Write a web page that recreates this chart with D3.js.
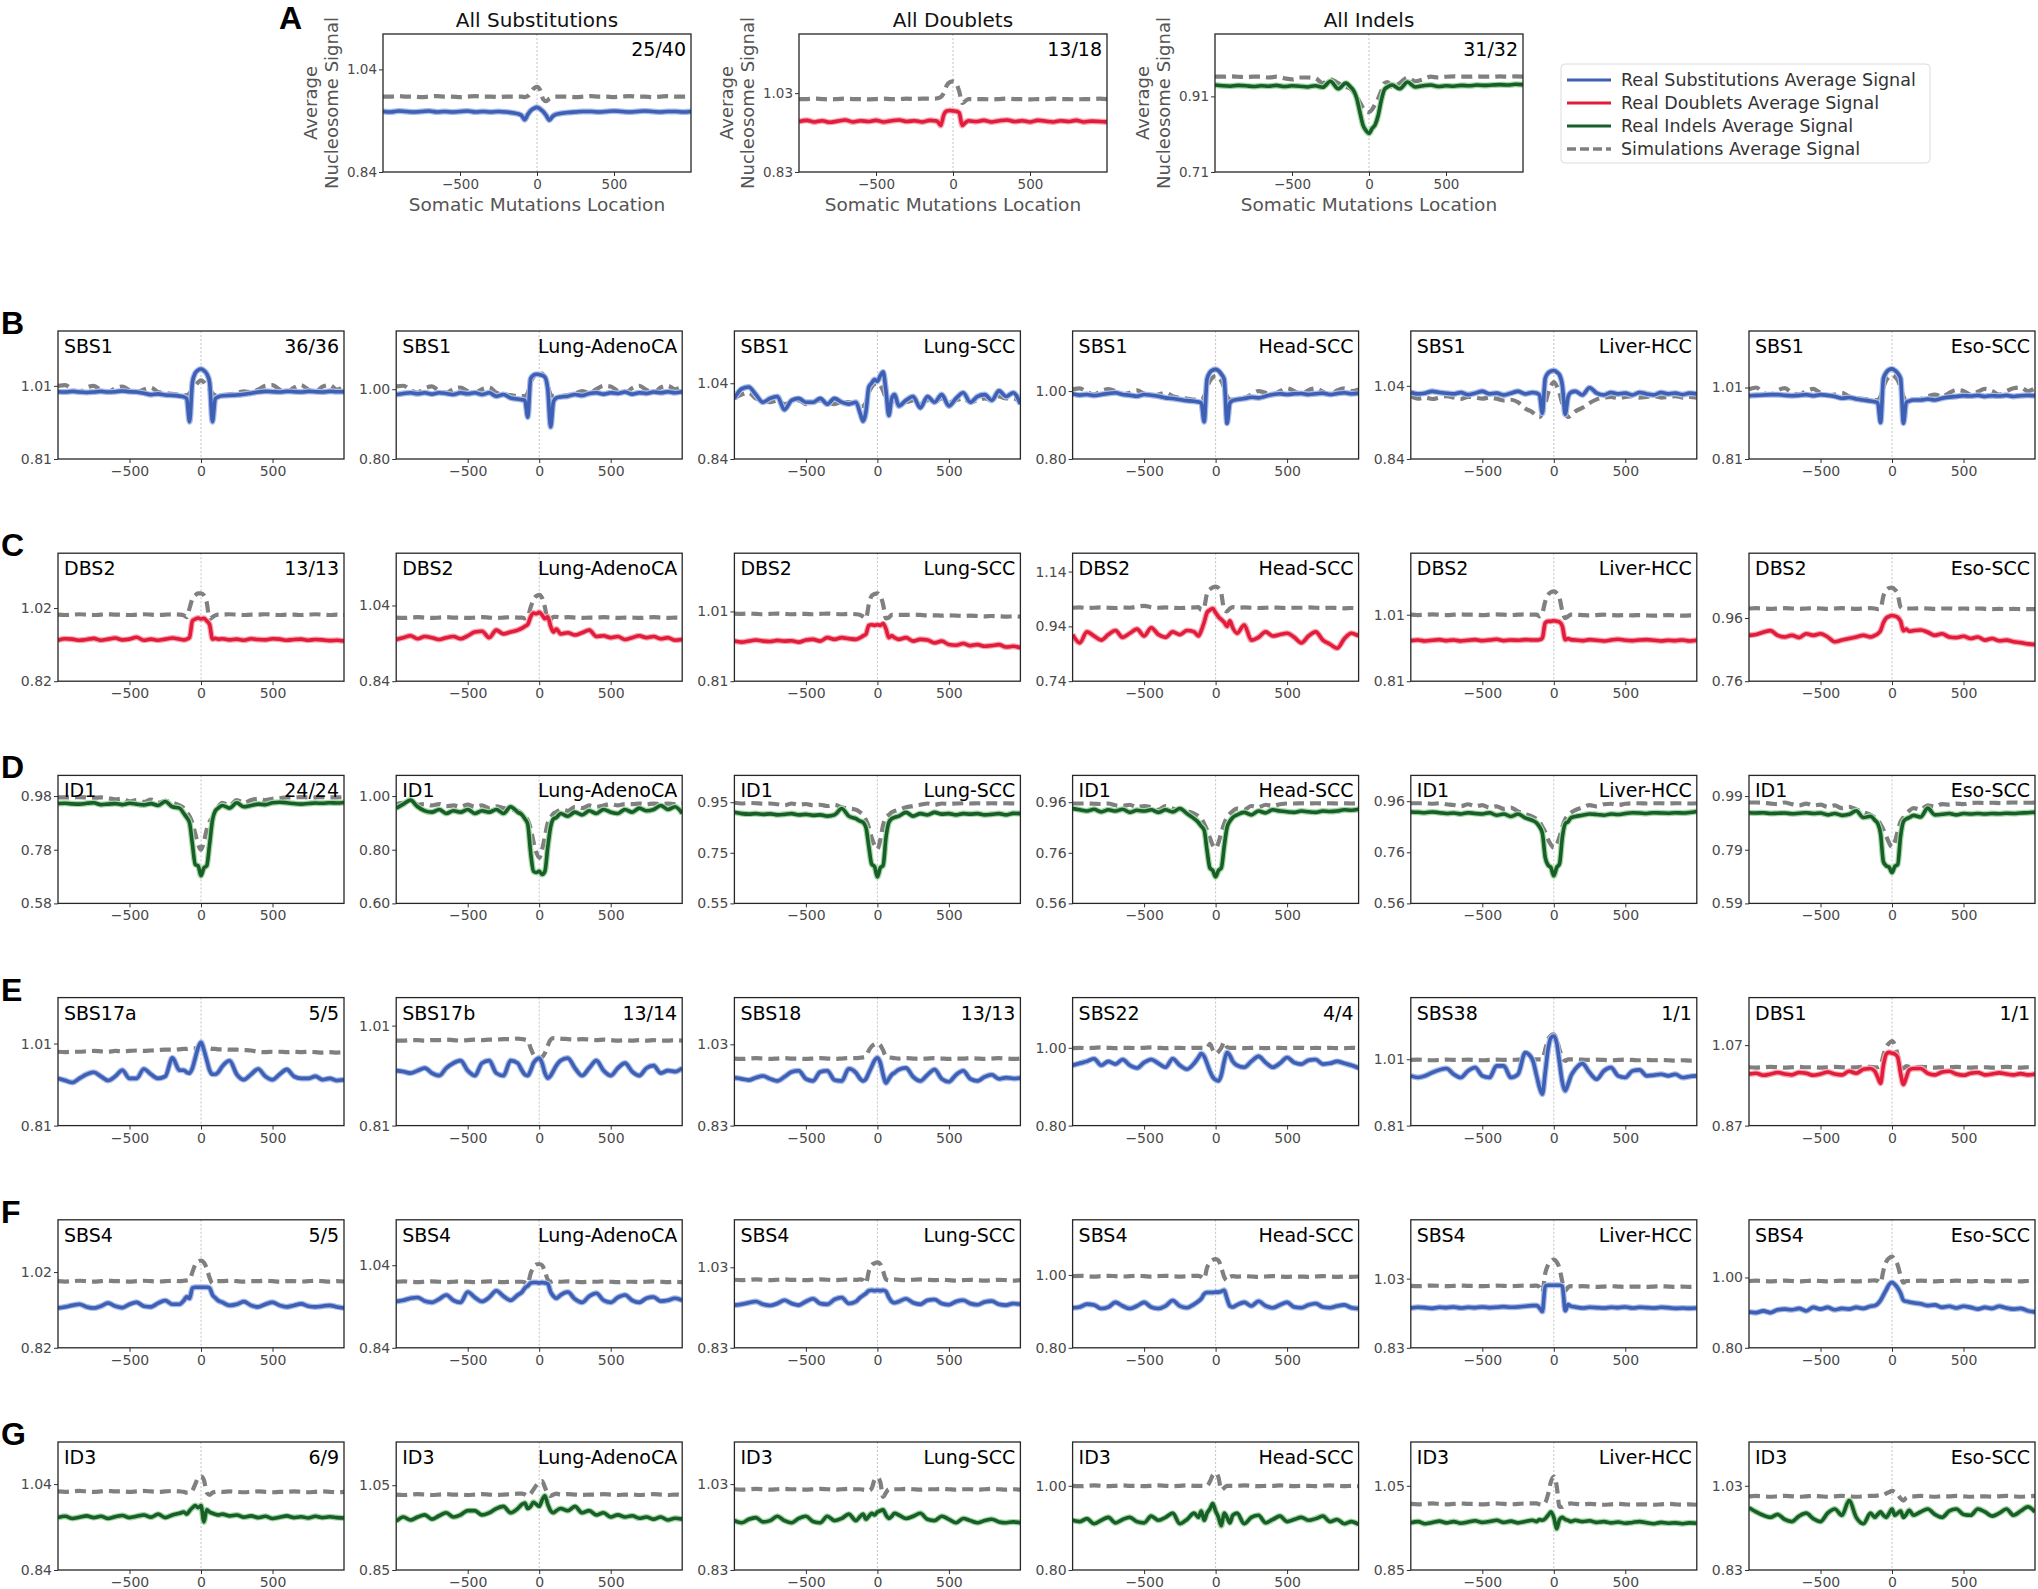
<!DOCTYPE html>
<html><head><meta charset="utf-8">
<script src="https://cdn.jsdelivr.net/npm/d3@7"></script>
<style>body{margin:0;background:#fff}svg{display:block}text{font-family:'DejaVu Sans',sans-serif}</style>
</head><body><script>
// ---------- DATA ----------
const X = [-1000,-950,-900,-850,-800,-750,-700,-650,-600,-550,-500,-450,-400,-350,-300,-250,-200,-150,
 -120,-100,-80,-60,-40,-20,0,20,40,60,80,100,120,
 150,200,250,300,350,400,450,500,550,600,650,700,750,800,850,900,950,1000];
const xTicks = [-500,0,500];

// Panel A
const realA1=[0.958,0.957,0.959,0.958,0.957,0.958,0.959,0.957,0.958,0.957,0.958,0.959,0.957,0.958,0.957,0.958,0.957,0.955,
0.953,0.950,0.942,0.952,0.960,0.964,0.966,0.963,0.958,0.950,0.941,0.948,0.952,
0.954,0.956,0.957,0.958,0.958,0.957,0.958,0.959,0.958,0.957,0.958,0.959,0.958,0.957,0.958,0.958,0.957,0.958];
const simA1=[0.987,0.987,0.988,0.987,0.987,0.986,0.987,0.988,0.987,0.987,0.986,0.987,0.988,0.987,0.987,0.986,0.987,0.987,
0.987,0.987,0.986,0.988,0.995,1.003,1.006,1.0,0.982,0.978,0.983,0.986,0.987,
0.987,0.987,0.986,0.987,0.988,0.987,0.987,0.986,0.987,0.988,0.987,0.987,0.986,0.987,0.988,0.987,0.987,0.987];
const realA2=[0.958,0.961,0.957,0.96,0.956,0.959,0.962,0.957,0.96,0.958,0.961,0.957,0.96,0.962,0.958,0.96,0.957,0.961,
0.96,0.958,0.948,0.975,0.985,0.986,0.985,0.984,0.98,0.948,0.955,0.96,0.959,
0.958,0.961,0.957,0.96,0.962,0.958,0.96,0.957,0.961,0.959,0.957,0.96,0.958,0.961,0.957,0.959,0.958,0.957];
const simA2=[1.015,1.015,1.016,1.015,1.014,1.015,1.016,1.015,1.015,1.014,1.015,1.016,1.015,1.015,1.016,1.015,1.016,1.016,
1.016,1.017,1.02,1.03,1.05,1.058,1.06,1.055,1.035,1.005,1.01,1.015,1.015,
1.015,1.015,1.014,1.015,1.016,1.015,1.015,1.014,1.015,1.015,1.016,1.015,1.015,1.014,1.015,1.015,1.016,1.015];
const realA3=[0.94,0.938,0.937,0.939,0.938,0.936,0.938,0.937,0.939,0.936,0.938,0.937,0.935,0.938,0.934,0.95,0.93,0.945,
0.935,0.925,0.905,0.87,0.835,0.82,0.812,0.825,0.835,0.86,0.9,0.928,0.935,
0.94,0.93,0.948,0.935,0.938,0.94,0.936,0.938,0.937,0.939,0.938,0.94,0.939,0.94,0.941,0.94,0.942,0.941];
const simA3=[0.962,0.962,0.963,0.962,0.961,0.962,0.962,0.96,0.962,0.958,0.955,0.96,0.96,0.958,0.945,0.955,0.945,0.935,
0.93,0.92,0.91,0.895,0.88,0.87,0.868,0.875,0.89,0.905,0.925,0.945,0.948,
0.935,0.945,0.96,0.95,0.955,0.962,0.96,0.962,0.963,0.962,0.962,0.963,0.962,0.962,0.963,0.962,0.963,0.962];

// Row B (SBS1)
const realB1=[0.994,0.993,0.995,0.993,0.992,0.993,0.995,0.993,0.994,0.996,0.994,0.993,0.99,0.986,0.988,0.985,0.984,0.982,
0.98,0.975,0.912,1.02,1.045,1.053,1.056,1.052,1.043,1.02,0.912,0.975,0.98,
0.983,0.984,0.985,0.987,0.99,0.993,0.995,0.994,0.993,0.995,0.994,0.993,0.995,0.994,0.993,0.995,0.994,0.994];
const simB1=[1.01,1.012,1.0,0.993,1.005,1.01,0.998,0.993,1.003,1.008,0.998,0.993,1.0,1.005,0.993,0.99,0.988,0.985,
0.985,0.985,0.99,1.0,1.01,1.02,1.025,1.02,1.01,1.0,0.99,0.985,0.985,
0.985,0.987,0.99,0.995,0.992,1.0,1.01,1.012,1.0,0.993,1.005,1.012,1.0,0.993,1.008,1.012,1.0,1.01];
const realB2=[0.985,0.988,0.99,0.987,0.99,0.986,0.99,0.988,0.985,0.99,0.987,0.99,0.985,0.99,0.98,0.985,0.975,0.972,
0.97,0.968,0.92,1.03,1.04,1.043,1.042,1.04,1.035,1.0,0.892,0.965,0.975,
0.978,0.98,0.985,0.982,0.988,0.99,0.986,0.99,0.988,0.992,0.986,0.99,0.988,0.992,0.99,0.993,0.99,0.993];
const simB2=[1.008,1.01,0.998,0.99,1.003,1.008,0.995,0.99,1.0,1.005,0.995,0.99,1.0,1.005,0.99,0.985,0.983,0.98,
0.98,0.98,0.99,1.02,1.035,1.045,1.048,1.045,1.035,1.01,0.985,0.98,0.98,
0.98,0.983,0.988,0.995,0.99,1.0,1.01,1.008,0.995,0.99,1.003,1.01,0.998,0.99,1.005,1.01,1.0,1.008];
const realB3=[1.0,1.025,1.03,1.01,0.99,1.0,1.005,0.97,0.995,1.0,0.99,0.99,1.0,0.985,1.0,0.99,0.985,0.99,
0.96,0.94,0.965,1.03,1.04,1.05,1.045,1.06,1.07,1.02,0.955,1.0,1.01,
0.98,0.995,1.005,0.975,1.005,0.99,1.01,0.98,1.0,1.015,0.99,1.005,1.01,0.995,1.02,1.005,1.015,0.985];
const simB3=[1.0,1.01,1.015,1.0,0.995,0.99,0.995,0.985,0.99,0.995,0.985,0.99,0.995,0.99,0.985,0.99,0.99,0.985,
0.98,0.98,0.99,1.015,1.03,1.038,1.04,1.035,1.02,1.0,0.99,0.99,0.995,
0.99,0.99,0.995,0.985,0.995,0.99,1.0,0.99,0.995,1.0,0.99,0.995,1.0,0.995,1.005,1.0,1.0,0.99];
const realB4=[0.992,0.988,0.99,0.987,0.99,0.993,0.995,0.99,0.988,0.985,0.99,0.988,0.985,0.98,0.978,0.975,0.972,0.97,
0.968,0.965,0.91,1.035,1.055,1.062,1.064,1.06,1.05,1.035,0.905,0.965,0.972,
0.975,0.978,0.982,0.98,0.985,0.99,0.992,0.99,0.992,0.993,0.99,0.992,0.994,0.99,0.993,0.995,0.992,0.994];
const simB4=[1.005,1.008,0.998,0.99,1.0,1.006,1.0,0.99,0.995,1.002,0.992,0.985,0.99,0.995,0.985,0.98,0.978,0.975,
0.975,0.975,0.985,1.01,1.03,1.04,1.045,1.04,1.03,1.01,0.985,0.975,0.975,
0.978,0.98,0.99,1.0,0.995,0.99,1.0,1.008,1.0,0.99,1.003,1.008,0.998,0.99,1.002,1.008,1.0,1.005];
const realB5=[1.022,1.018,1.02,1.025,1.022,1.02,1.018,1.022,1.016,1.02,1.025,1.018,1.02,1.015,1.02,1.025,1.018,1.022,
1.02,1.015,0.965,1.06,1.075,1.08,1.082,1.078,1.07,1.04,0.962,1.01,1.022,
1.025,1.015,1.035,1.02,1.015,1.022,1.018,1.02,1.015,1.022,1.018,1.015,1.022,1.018,1.02,1.016,1.02,1.018];
const simB5=[1.012,1.005,1.008,1.004,1.008,1.012,1.008,1.004,1.01,1.008,1.005,1.008,1.005,1.0,1.002,0.995,0.978,0.968,
0.958,0.955,0.965,0.99,1.02,1.04,1.05,1.04,1.02,0.99,0.965,0.955,0.96,
0.97,0.98,0.993,1.003,1.008,1.01,1.006,1.01,1.012,1.008,1.01,1.012,1.008,1.01,1.012,1.008,1.01,1.008];
const realB6=[0.987,0.988,0.989,0.99,0.99,0.988,0.987,0.988,0.99,0.987,0.99,0.988,0.985,0.98,0.982,0.978,0.975,0.972,
0.97,0.968,0.912,1.035,1.052,1.06,1.062,1.058,1.05,1.035,0.91,0.968,0.972,
0.975,0.975,0.978,0.975,0.98,0.983,0.985,0.987,0.986,0.988,0.985,0.987,0.986,0.988,0.985,0.987,0.988,0.987];
const simB6=[1.005,1.01,0.995,0.99,1.002,1.008,0.995,0.99,1.0,1.006,0.995,0.988,0.99,0.995,0.985,0.98,0.978,0.975,
0.975,0.975,0.985,1.01,1.03,1.04,1.045,1.04,1.03,1.01,0.985,0.975,0.975,
0.975,0.978,0.985,0.99,0.985,0.995,1.003,1.0,0.99,0.998,1.006,1.0,0.99,1.0,1.008,1.01,1.0,1.008];

// Row C (DBS2)
const realC1=[0.932,0.936,0.935,0.932,0.934,0.937,0.932,0.935,0.938,0.933,0.935,0.94,0.932,0.935,0.932,0.935,0.938,0.935,
0.933,0.935,0.94,0.985,0.99,0.993,0.99,0.992,0.985,0.975,0.935,0.937,0.935,
0.936,0.933,0.935,0.932,0.936,0.934,0.933,0.936,0.935,0.932,0.934,0.935,0.932,0.934,0.933,0.931,0.932,0.93];
const simC1=[1.002,1.001,1.002,1.003,1.002,1.001,1.002,1.003,1.002,1.002,1.001,1.002,1.003,1.002,1.001,1.002,1.003,1.002,
1.0,0.995,1.02,1.045,1.055,1.06,1.06,1.055,1.035,0.99,0.995,1.0,1.002,
1.002,1.003,1.002,1.001,1.002,1.002,1.003,1.002,1.001,1.002,1.002,1.001,1.002,1.003,1.002,1.001,1.002,1.001];
const realC2=[0.95,0.955,0.96,0.952,0.958,0.955,0.95,0.955,0.958,0.952,0.96,0.97,0.972,0.955,0.975,0.965,0.97,0.975,
0.98,0.985,0.99,1.01,1.02,1.018,1.022,1.015,1.005,1.01,0.985,0.97,0.978,
0.965,0.968,0.962,0.968,0.975,0.958,0.96,0.955,0.958,0.95,0.955,0.96,0.955,0.958,0.952,0.955,0.948,0.95];
const simC2=[1.008,1.007,1.008,1.009,1.008,1.007,1.008,1.009,1.008,1.008,1.007,1.008,1.009,1.008,1.007,1.008,1.009,1.008,
1.008,1.006,1.01,1.035,1.055,1.065,1.068,1.06,1.035,1.0,1.003,1.01,1.01,
1.008,1.009,1.008,1.007,1.008,1.008,1.009,1.008,1.007,1.008,1.008,1.007,1.008,1.009,1.008,1.007,1.008,1.007];
const realC3=[0.925,0.922,0.925,0.928,0.925,0.924,0.927,0.925,0.926,0.922,0.928,0.93,0.925,0.935,0.93,0.935,0.932,0.93,
0.935,0.94,0.945,0.97,0.972,0.97,0.972,0.97,0.975,0.96,0.935,0.94,0.935,
0.93,0.935,0.925,0.93,0.928,0.92,0.925,0.915,0.913,0.918,0.912,0.915,0.91,0.912,0.915,0.908,0.91,0.906];
const simC3=[1.004,1.003,1.004,1.003,1.002,1.003,1.004,1.003,1.002,1.003,1.003,1.002,1.003,1.004,1.003,1.002,1.003,1.002,
1.0,0.995,0.99,1.03,1.055,1.06,1.062,1.055,1.03,0.99,0.992,1.0,1.0,
1.0,1.0,1.001,1.0,0.999,0.999,0.998,0.999,0.998,0.997,0.998,0.997,0.996,0.997,0.996,0.995,0.996,0.995];
const realC4=[0.91,0.88,0.92,0.905,0.89,0.91,0.925,0.9,0.915,0.93,0.905,0.935,0.91,0.9,0.92,0.91,0.925,0.92,
0.905,0.925,0.955,0.99,1.0,1.005,0.99,0.975,0.965,0.955,0.94,0.96,0.935,
0.915,0.945,0.89,0.9,0.92,0.905,0.91,0.915,0.9,0.88,0.905,0.92,0.89,0.875,0.86,0.895,0.915,0.905];
const simC4=[1.008,1.009,1.007,1.008,1.009,1.008,1.007,1.009,1.008,1.012,1.015,1.01,1.008,1.009,1.008,1.007,1.008,1.009,
1.01,1.0,1.01,1.06,1.075,1.082,1.085,1.08,1.06,1.0,0.995,1.005,1.01,
1.008,1.009,1.008,1.007,1.008,1.009,1.008,1.007,1.008,1.008,1.009,1.008,1.007,1.008,1.007,1.006,1.007,1.006];
const realC5=[0.932,0.934,0.931,0.933,0.935,0.932,0.934,0.931,0.933,0.935,0.932,0.934,0.936,0.932,0.934,0.933,0.935,0.934,
0.934,0.935,0.94,0.985,0.99,0.99,0.992,0.99,0.988,0.975,0.935,0.938,0.935,
0.934,0.932,0.935,0.933,0.931,0.934,0.936,0.933,0.932,0.934,0.935,0.933,0.931,0.933,0.932,0.934,0.931,0.933];
const simC5=[1.01,1.009,1.01,1.011,1.01,1.009,1.01,1.011,1.01,1.01,1.009,1.01,1.011,1.01,1.009,1.01,1.011,1.01,
1.01,1.005,1.015,1.05,1.07,1.078,1.08,1.075,1.06,1.02,1.0,1.005,1.01,
1.01,1.009,1.008,1.009,1.01,1.009,1.008,1.009,1.008,1.009,1.008,1.007,1.008,1.009,1.008,1.007,1.008,1.007];
const realC6=[0.905,0.908,0.915,0.92,0.905,0.9,0.905,0.898,0.91,0.905,0.91,0.9,0.885,0.89,0.895,0.9,0.905,0.9,
0.905,0.91,0.92,0.945,0.96,0.965,0.968,0.966,0.962,0.95,0.92,0.925,0.918,
0.92,0.922,0.915,0.905,0.91,0.9,0.898,0.902,0.895,0.9,0.89,0.895,0.888,0.89,0.885,0.882,0.878,0.876];
const simC6=[0.99,0.991,0.99,0.989,0.99,0.991,0.99,0.989,0.99,0.991,0.99,0.989,0.99,0.991,0.99,0.989,0.99,0.991,
0.99,0.988,0.99,1.03,1.048,1.055,1.056,1.05,1.035,0.995,0.99,0.99,0.99,
0.99,0.991,0.99,0.989,0.99,0.99,0.989,0.99,0.989,0.99,0.989,0.988,0.989,0.988,0.989,0.988,0.988,0.988];

// Row D (ID1)
const realD1=[0.952,0.953,0.951,0.95,0.953,0.955,0.948,0.95,0.952,0.948,0.953,0.95,0.947,0.952,0.945,0.96,0.94,0.935,
0.915,0.9,0.88,0.8,0.725,0.72,0.683,0.712,0.72,0.8,0.89,0.925,0.935,
0.945,0.935,0.955,0.94,0.945,0.95,0.948,0.955,0.957,0.955,0.952,0.95,0.952,0.954,0.953,0.955,0.954,0.956];
const simD1=[0.975,0.975,0.975,0.976,0.975,0.974,0.975,0.972,0.968,0.97,0.96,0.965,0.958,0.967,0.955,0.962,0.955,0.945,
0.935,0.92,0.905,0.88,0.84,0.8,0.78,0.81,0.855,0.885,0.9,0.92,0.94,
0.955,0.945,0.965,0.955,0.965,0.97,0.965,0.97,0.972,0.975,0.975,0.976,0.975,0.975,0.976,0.975,0.975,0.976];
const realD2=[0.955,0.97,0.985,0.96,0.945,0.94,0.95,0.935,0.945,0.94,0.95,0.935,0.945,0.94,0.95,0.935,0.96,0.94,
0.93,0.915,0.895,0.79,0.72,0.715,0.72,0.708,0.72,0.81,0.885,0.915,0.92,
0.935,0.925,0.94,0.93,0.945,0.935,0.95,0.94,0.935,0.95,0.94,0.955,0.945,0.95,0.965,0.95,0.96,0.935];
const simD2=[0.97,0.975,0.972,0.968,0.97,0.965,0.97,0.962,0.965,0.96,0.968,0.96,0.965,0.955,0.962,0.955,0.95,0.945,
0.935,0.925,0.91,0.88,0.83,0.79,0.77,0.8,0.85,0.9,0.92,0.935,0.94,
0.95,0.945,0.96,0.955,0.965,0.96,0.965,0.97,0.965,0.97,0.97,0.972,0.97,0.972,0.97,0.972,0.97,0.972];
const realD3=[0.91,0.905,0.903,0.905,0.902,0.904,0.9,0.902,0.905,0.9,0.902,0.898,0.9,0.895,0.9,0.925,0.895,0.885,
0.875,0.87,0.85,0.775,0.705,0.695,0.655,0.69,0.7,0.81,0.87,0.885,0.89,
0.895,0.91,0.895,0.905,0.9,0.91,0.903,0.905,0.9,0.905,0.903,0.905,0.9,0.902,0.905,0.9,0.906,0.905];
const simD3=[0.948,0.945,0.947,0.946,0.944,0.945,0.942,0.938,0.945,0.94,0.943,0.938,0.94,0.935,0.94,0.93,0.925,0.92,
0.91,0.9,0.88,0.85,0.81,0.78,0.765,0.8,0.86,0.89,0.9,0.91,0.915,
0.92,0.93,0.935,0.94,0.945,0.94,0.945,0.943,0.945,0.946,0.945,0.946,0.945,0.946,0.945,0.946,0.945,0.946];
const realD4=[0.935,0.93,0.925,0.932,0.922,0.93,0.925,0.932,0.92,0.928,0.925,0.93,0.92,0.93,0.922,0.935,0.915,0.895,
0.88,0.865,0.85,0.77,0.7,0.69,0.665,0.69,0.7,0.785,0.86,0.885,0.9,
0.91,0.92,0.91,0.925,0.918,0.93,0.925,0.922,0.92,0.925,0.922,0.92,0.925,0.923,0.925,0.93,0.928,0.932];
const simD4=[0.955,0.955,0.955,0.954,0.953,0.955,0.948,0.945,0.95,0.94,0.945,0.94,0.93,0.945,0.935,0.93,0.925,0.915,
0.905,0.895,0.875,0.85,0.82,0.79,0.778,0.8,0.84,0.875,0.9,0.915,0.925,
0.935,0.93,0.945,0.94,0.95,0.945,0.952,0.955,0.955,0.956,0.955,0.956,0.955,0.956,0.955,0.956,0.955,0.956];
const realD5=[0.918,0.917,0.915,0.918,0.915,0.912,0.914,0.91,0.915,0.912,0.91,0.915,0.905,0.91,0.9,0.91,0.895,0.885,
0.875,0.86,0.835,0.74,0.71,0.7,0.668,0.7,0.715,0.82,0.872,0.88,0.895,
0.9,0.905,0.91,0.908,0.905,0.91,0.908,0.912,0.915,0.914,0.912,0.915,0.914,0.913,0.915,0.914,0.916,0.92];
const simD5=[0.952,0.952,0.952,0.95,0.952,0.948,0.945,0.94,0.948,0.94,0.945,0.935,0.94,0.93,0.935,0.92,0.91,0.9,
0.89,0.88,0.86,0.84,0.81,0.79,0.778,0.79,0.82,0.86,0.89,0.905,0.915,
0.925,0.935,0.945,0.94,0.948,0.95,0.945,0.95,0.952,0.952,0.951,0.952,0.952,0.951,0.952,0.952,0.951,0.952];
const realD6=[0.928,0.927,0.928,0.925,0.926,0.927,0.924,0.926,0.928,0.925,0.927,0.92,0.925,0.918,0.922,0.935,0.91,0.915,
0.9,0.888,0.85,0.745,0.73,0.725,0.705,0.728,0.735,0.84,0.895,0.905,0.91,
0.918,0.912,0.945,0.92,0.922,0.925,0.92,0.925,0.923,0.925,0.923,0.925,0.924,0.926,0.925,0.927,0.928,0.93];
const simD6=[0.966,0.966,0.965,0.962,0.96,0.966,0.96,0.955,0.962,0.955,0.958,0.95,0.955,0.945,0.95,0.94,0.93,0.92,
0.91,0.9,0.885,0.865,0.84,0.815,0.8,0.82,0.86,0.895,0.91,0.925,0.935,
0.945,0.94,0.955,0.95,0.96,0.958,0.962,0.96,0.964,0.965,0.964,0.965,0.964,0.965,0.966,0.965,0.965,0.966];

// Row E
const realE1=[0.925,0.92,0.915,0.925,0.935,0.94,0.93,0.92,0.93,0.945,0.925,0.925,0.948,0.935,0.925,0.93,0.975,0.945,
0.945,0.94,0.938,0.95,0.975,1.0,1.013,0.995,0.97,0.945,0.935,0.935,0.94,
0.955,0.968,0.935,0.922,0.935,0.948,0.93,0.922,0.935,0.947,0.93,0.925,0.925,0.93,0.922,0.925,0.92,0.922];
const simE1=[0.99,0.989,0.99,0.99,0.991,0.992,0.991,0.99,0.992,0.991,0.992,0.993,0.992,0.993,0.994,0.995,0.995,0.996,
0.997,0.997,0.998,0.998,0.998,0.998,0.999,0.998,0.998,0.998,0.997,0.997,0.996,
0.996,0.995,0.995,0.994,0.993,0.99,0.989,0.99,0.99,0.989,0.99,0.989,0.99,0.989,0.988,0.989,0.988,0.989];
const realE2=[0.92,0.918,0.915,0.92,0.925,0.915,0.91,0.925,0.935,0.94,0.92,0.91,0.935,0.94,0.915,0.91,0.94,0.935,
0.92,0.912,0.91,0.92,0.935,0.942,0.945,0.935,0.915,0.905,0.91,0.92,0.93,
0.94,0.945,0.925,0.91,0.925,0.94,0.92,0.91,0.925,0.935,0.918,0.91,0.925,0.93,0.915,0.92,0.918,0.925];
const simE2=[0.98,0.98,0.981,0.981,0.98,0.981,0.981,0.982,0.981,0.98,0.981,0.982,0.981,0.982,0.982,0.983,0.983,0.984,
0.983,0.982,0.98,0.965,0.952,0.946,0.945,0.947,0.955,0.97,0.982,0.985,0.985,
0.984,0.983,0.982,0.983,0.982,0.981,0.982,0.981,0.98,0.981,0.98,0.981,0.98,0.981,0.98,0.98,0.981,0.98];
const realE3=[0.948,0.945,0.942,0.948,0.952,0.945,0.94,0.95,0.962,0.965,0.945,0.94,0.962,0.965,0.942,0.94,0.97,0.96,
0.945,0.94,0.945,0.96,0.975,0.99,0.997,0.985,0.955,0.935,0.945,0.955,0.96,
0.968,0.972,0.95,0.94,0.955,0.968,0.945,0.938,0.955,0.965,0.945,0.94,0.95,0.955,0.945,0.948,0.946,0.947];
const simE3=[0.995,0.994,0.995,0.996,0.995,0.994,0.995,0.996,0.995,0.995,0.994,0.995,0.996,0.995,0.994,0.995,0.996,0.996,
0.997,0.998,1.0,1.015,1.025,1.03,1.032,1.028,1.015,1.0,0.998,0.997,0.996,
0.995,0.996,0.995,0.994,0.995,0.996,0.995,0.994,0.995,0.995,0.996,0.995,0.994,0.995,0.996,0.995,0.994,0.995];
const realE4=[0.955,0.96,0.965,0.972,0.955,0.965,0.958,0.97,0.955,0.948,0.962,0.97,0.96,0.95,0.972,0.955,0.945,0.96,
0.975,0.985,0.978,0.96,0.94,0.925,0.918,0.915,0.93,0.965,0.988,0.98,0.965,
0.955,0.95,0.965,0.978,0.962,0.95,0.96,0.975,0.962,0.958,0.968,0.97,0.958,0.96,0.965,0.96,0.955,0.948];
const simE4=[0.999,1.0,0.999,1.0,1.001,1.0,0.999,1.0,1.0,0.999,1.0,1.001,1.0,0.999,1.0,1.0,0.999,1.0,
1.0,1.0,1.0,1.0,1.01,0.995,0.985,0.99,1.0,1.015,1.002,1.0,1.0,
1.0,0.999,1.0,1.0,0.999,1.0,1.0,0.999,1.0,1.0,0.999,1.0,0.999,1.0,0.999,0.999,1.0,0.999];
const realE5=[0.96,0.955,0.96,0.97,0.978,0.982,0.965,0.955,0.975,0.985,0.96,0.955,0.99,0.99,0.955,0.965,1.03,1.01,
0.96,0.925,0.905,0.97,1.04,1.075,1.08,1.06,1.0,0.94,0.915,0.935,0.96,
0.98,0.997,0.97,0.95,0.975,0.985,0.96,0.955,0.975,0.978,0.96,0.962,0.965,0.96,0.965,0.955,0.958,0.96];
const simE5=[1.008,1.009,1.008,1.007,1.008,1.009,1.008,1.008,1.009,1.008,1.007,1.008,1.009,1.008,1.008,1.009,1.01,1.01,
1.01,1.01,1.01,1.04,1.07,1.082,1.085,1.07,1.04,1.015,1.005,1.01,1.01,
1.01,1.009,1.008,1.009,1.008,1.007,1.008,1.009,1.008,1.007,1.008,1.007,1.008,1.007,1.006,1.007,1.006,1.007];
const realE6=[0.998,1.0,0.995,0.998,1.002,0.998,0.996,1.002,1.0,0.995,0.998,1.003,0.998,0.996,1.005,1.0,1.01,1.012,
1.005,0.99,0.975,1.02,1.048,1.052,1.05,1.048,1.04,1.0,0.972,0.99,1.008,
1.012,1.012,1.0,0.996,1.003,1.005,0.998,0.995,1.0,1.002,0.996,0.998,1.001,0.998,0.996,0.999,0.996,0.998];
const simE6=[1.015,1.014,1.015,1.016,1.015,1.014,1.015,1.016,1.015,1.015,1.014,1.015,1.016,1.015,1.014,1.015,1.016,1.016,
1.015,1.015,1.02,1.045,1.065,1.075,1.08,1.07,1.045,1.02,1.012,1.018,1.016,
1.015,1.016,1.015,1.014,1.015,1.015,1.016,1.015,1.014,1.015,1.015,1.014,1.015,1.016,1.015,1.014,1.015,1.014];

// Row F (SBS4)
const realF1=[0.925,0.928,0.932,0.935,0.928,0.925,0.93,0.938,0.93,0.926,0.935,0.94,0.93,0.928,0.938,0.945,0.935,0.935,
0.945,0.955,0.95,0.978,0.98,0.98,0.98,0.98,0.98,0.978,0.96,0.952,0.945,
0.94,0.932,0.935,0.942,0.932,0.928,0.935,0.94,0.932,0.928,0.932,0.936,0.93,0.928,0.93,0.932,0.928,0.925];
const simF1=[0.996,0.995,0.996,0.997,0.996,0.995,0.996,0.997,0.996,0.996,0.995,0.996,0.997,0.996,0.995,0.996,0.997,0.996,
0.997,0.998,1.0,1.02,1.04,1.048,1.05,1.045,1.03,1.005,0.99,0.995,0.996,
0.996,0.997,0.996,0.995,0.996,0.996,0.997,0.996,0.995,0.996,0.996,0.995,0.996,0.997,0.996,0.995,0.996,0.995];
const realF2=[0.952,0.955,0.96,0.962,0.953,0.95,0.958,0.968,0.955,0.95,0.975,0.962,0.952,0.962,0.978,0.965,0.955,0.968,
0.975,0.985,0.99,0.997,0.998,0.998,0.997,0.998,0.997,0.995,0.975,0.965,0.96,
0.968,0.975,0.958,0.95,0.965,0.972,0.955,0.95,0.962,0.968,0.955,0.95,0.96,0.963,0.953,0.955,0.96,0.955];
const simF2=[1.0,1.001,1.0,0.999,1.0,1.001,1.0,0.999,1.0,1.001,1.0,0.999,1.0,1.001,1.0,0.999,1.0,1.0,
1.0,0.998,0.995,1.02,1.035,1.042,1.043,1.04,1.025,1.005,1.0,1.002,1.001,
1.0,1.001,1.0,0.999,1.0,1.0,1.001,1.0,0.999,1.0,1.0,0.999,1.0,1.001,1.0,0.999,1.0,0.999];
const realF3=[0.936,0.938,0.942,0.945,0.938,0.935,0.94,0.948,0.94,0.936,0.945,0.952,0.94,0.938,0.95,0.955,0.94,0.945,
0.955,0.96,0.965,0.972,0.973,0.972,0.973,0.972,0.973,0.97,0.955,0.945,0.942,
0.945,0.952,0.942,0.938,0.948,0.95,0.94,0.937,0.945,0.948,0.94,0.937,0.944,0.946,0.938,0.936,0.94,0.938];
const simF3=[0.999,0.998,0.999,1.0,0.999,0.998,0.999,1.0,0.999,0.999,0.998,0.999,1.0,0.999,0.998,0.999,1.0,0.999,
1.0,0.998,0.99,1.02,1.035,1.04,1.042,1.038,1.02,1.0,0.998,1.0,1.0,
0.999,0.998,0.999,1.0,0.999,0.998,0.999,0.998,0.997,0.998,0.999,0.998,0.997,0.998,0.999,0.998,0.997,0.998];
const realF4=[0.91,0.912,0.92,0.918,0.908,0.912,0.925,0.915,0.908,0.915,0.925,0.912,0.908,0.915,0.93,0.915,0.91,0.92,
0.928,0.935,0.948,0.952,0.952,0.952,0.953,0.953,0.955,0.958,0.935,0.915,0.912,
0.918,0.925,0.915,0.928,0.915,0.91,0.918,0.925,0.912,0.91,0.918,0.922,0.912,0.91,0.915,0.918,0.91,0.908];
const simF4=[0.997,0.998,0.997,0.996,0.997,0.998,0.997,0.996,0.997,0.998,0.997,0.996,0.997,0.998,0.997,0.996,0.997,0.998,
0.998,0.995,0.99,1.02,1.035,1.042,1.044,1.04,1.02,0.995,0.985,0.995,0.997,
0.996,0.997,0.996,0.995,0.996,0.997,0.996,0.995,0.996,0.996,0.995,0.996,0.997,0.996,0.995,0.996,0.995,0.996];
const realF5=[0.945,0.947,0.946,0.944,0.947,0.946,0.948,0.945,0.947,0.946,0.948,0.946,0.947,0.949,0.947,0.948,0.95,0.952,
0.952,0.945,0.935,1.008,1.011,1.011,1.011,1.011,1.011,1.008,0.937,0.955,0.95,
0.948,0.945,0.947,0.946,0.945,0.947,0.946,0.948,0.945,0.947,0.946,0.945,0.947,0.946,0.944,0.945,0.944,0.945];
const simF5=[1.009,1.008,1.009,1.01,1.009,1.008,1.009,1.01,1.009,1.009,1.008,1.009,1.01,1.009,1.008,1.009,1.01,1.009,
1.01,1.005,0.99,1.045,1.07,1.08,1.085,1.078,1.06,1.02,0.995,1.005,1.008,
1.007,1.008,1.007,1.006,1.007,1.008,1.007,1.006,1.007,1.007,1.006,1.007,1.008,1.007,1.006,1.007,1.006,1.007];
const realF6=[0.902,0.9,0.905,0.9,0.908,0.91,0.908,0.912,0.905,0.915,0.91,0.915,0.908,0.912,0.91,0.915,0.912,0.918,
0.92,0.925,0.935,0.95,0.965,0.98,0.986,0.98,0.97,0.955,0.935,0.932,0.93,
0.928,0.925,0.92,0.922,0.915,0.918,0.913,0.918,0.915,0.91,0.915,0.912,0.918,0.913,0.91,0.912,0.905,0.902];
const simF6=[0.99,0.991,0.99,0.989,0.99,0.991,0.99,0.989,0.99,0.991,0.99,0.989,0.99,0.991,0.99,0.989,0.99,0.991,
0.992,0.99,0.985,1.02,1.045,1.055,1.059,1.05,1.035,1.005,0.985,0.99,0.99,
0.99,0.991,0.99,0.989,0.99,0.99,0.991,0.99,0.989,0.99,0.99,0.989,0.99,0.991,0.99,0.989,0.99,0.99];

// Row G (ID3)
const realG1=[0.962,0.965,0.96,0.963,0.966,0.962,0.965,0.96,0.964,0.967,0.962,0.965,0.968,0.963,0.97,0.962,0.968,0.972,
0.975,0.97,0.978,0.985,0.99,0.985,0.99,0.952,0.98,0.975,0.972,0.97,0.968,
0.97,0.966,0.968,0.963,0.966,0.962,0.965,0.96,0.963,0.966,0.962,0.964,0.961,0.965,0.962,0.964,0.962,0.961];
const simG1=[1.023,1.022,1.023,1.024,1.023,1.022,1.023,1.024,1.023,1.023,1.022,1.023,1.024,1.023,1.022,1.023,1.024,1.023,
1.022,1.02,1.02,1.025,1.04,1.055,1.058,1.05,1.02,1.015,1.02,1.022,1.023,
1.022,1.023,1.022,1.021,1.022,1.023,1.022,1.021,1.022,1.022,1.023,1.022,1.021,1.022,1.023,1.022,1.021,1.022];
const realG2=[0.965,0.975,0.968,0.975,0.98,0.97,0.978,0.985,0.975,0.98,0.99,0.99,0.98,0.985,0.995,1.0,0.985,0.995,
1.005,1.008,0.995,1.0,1.01,1.005,1.0,1.015,1.025,1.005,0.99,0.985,0.99,
0.995,0.99,1.0,0.985,0.99,0.98,0.985,0.975,0.98,0.975,0.978,0.972,0.975,0.97,0.975,0.968,0.972,0.97];
const simG2=[1.028,1.027,1.028,1.029,1.028,1.027,1.028,1.029,1.028,1.028,1.027,1.028,1.029,1.028,1.027,1.028,1.029,1.03,
1.03,1.028,1.025,1.03,1.04,1.05,1.058,1.06,1.045,1.03,1.025,1.028,1.03,
1.028,1.029,1.028,1.027,1.028,1.028,1.029,1.028,1.027,1.028,1.028,1.027,1.028,1.029,1.028,1.027,1.028,1.027];
const realG3=[0.945,0.94,0.948,0.952,0.942,0.945,0.955,0.945,0.94,0.95,0.955,0.943,0.94,0.955,0.945,0.95,0.96,0.945,
0.955,0.96,0.948,0.955,0.962,0.958,0.965,0.968,0.97,0.958,0.95,0.955,0.962,
0.958,0.95,0.955,0.962,0.948,0.945,0.955,0.948,0.94,0.95,0.945,0.94,0.945,0.948,0.942,0.94,0.942,0.94];
const simG3=[1.018,1.017,1.018,1.019,1.018,1.017,1.018,1.019,1.018,1.018,1.017,1.018,1.019,1.018,1.017,1.018,1.019,1.018,
1.018,1.017,1.016,1.015,1.02,1.04,1.045,1.035,1.0,1.01,1.018,1.018,1.018,
1.018,1.019,1.018,1.017,1.018,1.018,1.019,1.018,1.017,1.018,1.018,1.017,1.018,1.019,1.018,1.017,1.018,1.017];
const realG4=[0.918,0.915,0.922,0.91,0.918,0.925,0.912,0.92,0.925,0.915,0.912,0.928,0.918,0.925,0.935,0.91,0.92,0.935,
0.925,0.94,0.918,0.935,0.945,0.958,0.94,0.925,0.905,0.935,0.925,0.912,0.93,
0.935,0.91,0.925,0.93,0.912,0.92,0.928,0.915,0.92,0.925,0.918,0.922,0.928,0.915,0.92,0.91,0.915,0.908];
const simG4=[1.0,0.999,1.0,1.001,1.0,0.999,1.0,1.001,1.0,1.0,0.999,1.0,1.001,1.0,0.999,1.0,1.001,1.0,
1.0,1.0,1.0,1.0,1.01,1.025,1.03,1.02,0.99,0.995,1.0,1.0,1.0,
1.0,1.001,1.0,0.999,1.0,1.0,1.001,1.0,0.999,1.0,1.0,0.999,1.0,1.001,1.0,0.999,1.0,0.999];
const realG5=[0.962,0.965,0.96,0.963,0.966,0.962,0.965,0.961,0.964,0.967,0.963,0.965,0.968,0.963,0.966,0.962,0.965,0.968,
0.965,0.97,0.968,0.972,0.98,0.988,0.975,0.948,0.97,0.975,0.97,0.968,0.965,
0.968,0.965,0.967,0.963,0.965,0.962,0.964,0.961,0.963,0.965,0.962,0.96,0.963,0.961,0.962,0.96,0.962,0.961];
const simG5=[1.007,1.006,1.007,1.008,1.007,1.006,1.007,1.008,1.007,1.007,1.006,1.007,1.008,1.007,1.006,1.007,1.008,1.008,
1.008,1.006,1.005,1.01,1.03,1.06,1.072,1.05,1.0,1.0,1.005,1.007,1.008,
1.007,1.006,1.007,1.006,1.005,1.006,1.007,1.006,1.005,1.006,1.006,1.005,1.006,1.007,1.006,1.005,1.006,1.005];
const realG6=[0.978,0.968,0.96,0.955,0.962,0.95,0.945,0.958,0.965,0.952,0.945,0.965,0.975,0.96,0.995,0.955,0.94,0.965,
0.955,0.962,0.968,0.96,0.955,0.965,0.975,0.96,0.965,0.97,0.955,0.962,0.972,
0.96,0.968,0.975,0.962,0.955,0.97,0.975,0.962,0.96,0.975,0.968,0.958,0.965,0.975,0.96,0.97,0.98,0.968];
const simG6=[1.005,1.006,1.005,1.004,1.005,1.006,1.005,1.004,1.005,1.006,1.005,1.004,1.005,1.006,1.005,1.004,1.005,1.006,
1.006,1.007,1.008,1.008,1.012,1.015,1.018,1.015,1.01,1.0,0.995,1.002,1.005,
1.005,1.006,1.005,1.004,1.005,1.005,1.006,1.005,1.004,1.005,1.005,1.004,1.005,1.006,1.005,1.004,1.005,1.006];

// labels / axis limits
const titlesA = ["All Substitutions","All Doublets","All Indels"];
const ratiosA = ["25/40","13/18","31/32"];
const typesA = ["sub","dbl","ind"];
const yDomA = [[0.84,1.109],[0.83,1.18],[0.71,1.075]];
const yTicksA = [[0.84,1.04],[0.83,1.03],[0.71,0.91]];
const realA = [realA1,realA2,realA3], simA=[simA1,simA2,simA3];

const rowLetters = ["B","C","D","E","F","G"];
const cancerTags = ["Lung-AdenoCA","Lung-SCC","Head-SCC","Liver-HCC","Eso-SCC"];
const sigNames = [
 ["SBS1","SBS1","SBS1","SBS1","SBS1","SBS1"],
 ["DBS2","DBS2","DBS2","DBS2","DBS2","DBS2"],
 ["ID1","ID1","ID1","ID1","ID1","ID1"],
 ["SBS17a","SBS17b","SBS18","SBS22","SBS38","DBS1"],
 ["SBS4","SBS4","SBS4","SBS4","SBS4","SBS4"],
 ["ID3","ID3","ID3","ID3","ID3","ID3"]];
const tags = [
 ["36/36",...cancerTags],
 ["13/13",...cancerTags],
 ["24/24",...cancerTags],
 ["5/5","13/14","13/13","4/4","1/1","1/1"],
 ["5/5",...cancerTags],
 ["6/9",...cancerTags]];
const types = [
 ["sub","sub","sub","sub","sub","sub"],
 ["dbl","dbl","dbl","dbl","dbl","dbl"],
 ["ind","ind","ind","ind","ind","ind"],
 ["sub","sub","sub","sub","sub","dbl"],
 ["sub","sub","sub","sub","sub","sub"],
 ["ind","ind","ind","ind","ind","ind"]];
const yLow = [
 [0.81,0.80,0.84,0.80,0.84,0.81],
 [0.82,0.84,0.81,0.74,0.81,0.76],
 [0.58,0.60,0.55,0.56,0.56,0.59],
 [0.81,0.81,0.83,0.80,0.81,0.87],
 [0.82,0.84,0.83,0.80,0.83,0.80],
 [0.84,0.85,0.83,0.80,0.85,0.83]];
const yHigh = [
 [1.16,1.167,1.178,1.177,1.19,1.168],
 [1.17,1.178,1.177,1.207,1.195,1.165],
 [1.057,1.077,1.056,1.066,1.061,1.067],
 [1.122,1.066,1.145,1.129,1.196,1.188],
 [1.158,1.15,1.148,1.152,1.20,1.164],
 [1.138,1.152,1.128,1.104,1.154,1.134]];
const realRows = [
 [realB1,realB2,realB3,realB4,realB5,realB6],
 [realC1,realC2,realC3,realC4,realC5,realC6],
 [realD1,realD2,realD3,realD4,realD5,realD6],
 [realE1,realE2,realE3,realE4,realE5,realE6],
 [realF1,realF2,realF3,realF4,realF5,realF6],
 [realG1,realG2,realG3,realG4,realG5,realG6]];
const simRows = [
 [simB1,simB2,simB3,simB4,simB5,simB6],
 [simC1,simC2,simC3,simC4,simC5,simC6],
 [simD1,simD2,simD3,simD4,simD5,simD6],
 [simE1,simE2,simE3,simE4,simE5,simE6],
 [simF1,simF2,simF3,simF4,simF5,simF6],
 [simG1,simG2,simG3,simG4,simG5,simG6]];
const legendLabels = ["Real Substitutions Average Signal","Real Doublets Average Signal","Real Indels Average Signal","Simulations Average Signal"];

// ---------- STYLE ----------
const COLOR = {sub:"#3d5fb4", dbl:"#e21d3b", ind:"#175e28", sim:"#808080"};
const HALO = {sub:"#a9bbe8", dbl:"#f6a7b3", ind:"#a3d6a3"};
const TICKC = "#4a4a4a";

const svg = d3.select("body").append("svg").attr("width",2038).attr("height",1589);
const defs = svg.append("defs");
let clipN = 0;

function drawPanel(o){
  const g = svg.append("g").attr("transform",`translate(${o.x},${o.y})`);
  const x = d3.scaleLinear().domain([-1000,1000]).range([0,o.w]);
  const y = d3.scaleLinear().domain(o.dom).range([o.h,0]);
  const id = "cl"+(clipN++);
  defs.append("clipPath").attr("id",id).append("rect").attr("width",o.w).attr("height",o.h);
  g.append("line").attr("x1",x(0)).attr("x2",x(0)).attr("y1",0).attr("y2",o.h)
    .attr("stroke","#c4c4c4").attr("stroke-width",1).attr("stroke-dasharray","2,2");
  const line = d3.line().x((d,i)=>x(X[i])).y(d=>y(d)).curve(d3.curveMonotoneX);
  const lg = g.append("g").attr("clip-path",`url(#${id})`);
  lg.append("path").attr("d",line(o.sim)).attr("fill","none").attr("stroke",COLOR.sim)
    .attr("stroke-width",4.2).attr("stroke-dasharray","11,6");
  lg.append("path").attr("d",line(o.real)).attr("fill","none").attr("stroke",HALO[o.type])
    .attr("stroke-width",6).attr("stroke-linejoin","round");
  lg.append("path").attr("d",line(o.real)).attr("fill","none").attr("stroke",COLOR[o.type])
    .attr("stroke-width",3.6).attr("stroke-linejoin","round");
  // axes
  const ay = g.append("g").call(d3.axisLeft(y).tickValues(o.ticks).tickFormat(d3.format(".2f")).tickSize(4).tickPadding(2));
  const ax = g.append("g").attr("transform",`translate(0,${o.h})`)
    .call(d3.axisBottom(x).tickValues(xTicks).tickSize(4).tickPadding(3));
  [ay,ax].forEach(a=>{a.select(".domain").remove();
    a.selectAll("line").attr("stroke","#333");
    a.selectAll("text").attr("fill",TICKC).style("font-size",o.tickFS+"px").style("font-family","DejaVu Sans");});
  g.append("rect").attr("width",o.w).attr("height",o.h).attr("fill","none").attr("stroke","#262626").attr("stroke-width",1.3);
  if(o.left) g.append("text").attr("x",6).attr("y",o.labY).text(o.left).style("font-size",o.labFS+"px").attr("fill","#000");
  if(o.right) g.append("text").attr("x",o.w-5).attr("y",o.labY).attr("text-anchor","end").text(o.right).style("font-size",o.labFS+"px").attr("fill","#000");
  return g;
}

// ---------- PANEL A ----------
const axs=[383,799,1215], aTop=34, aW=308, aH=138;
for(let i=0;i<3;i++){
  const g = drawPanel({x:axs[i],y:aTop,w:aW,h:aH,dom:yDomA[i],ticks:yTicksA[i],real:realA[i],sim:simA[i],
    type:typesA[i],right:ratiosA[i],labY:22,labFS:19,tickFS:13.5});
  g.append("text").attr("x",aW/2).attr("y",-7).attr("text-anchor","middle").text(titlesA[i])
    .style("font-size","20px").attr("fill","#111");
  g.append("text").attr("x",aW/2).attr("y",aH+39).attr("text-anchor","middle").text("Somatic Mutations Location")
    .style("font-size","18.5px").attr("fill","#555");
  const yl = g.append("text").attr("transform",`translate(-66,${aH/2}) rotate(-90)`).attr("text-anchor","middle")
    .style("font-size","18px").attr("fill","#555");
  yl.append("tspan").attr("x",0).attr("dy",0).text("Average");
  yl.append("tspan").attr("x",0).attr("dy",21).text("Nucleosome Signal");
}
svg.append("text").attr("x",279).attr("y",29).text("A").style("font-family","Liberation Sans, Arial, sans-serif")
  .style("font-weight","bold").style("font-size","32px");

// legend
const lgG = svg.append("g").attr("transform","translate(1561,64)");
lgG.append("rect").attr("width",369).attr("height",99).attr("rx",4).attr("fill","#fff").attr("stroke","#dcdcdc");
const legColors=[COLOR.sub,COLOR.dbl,COLOR.ind,COLOR.sim];
legendLabels.forEach((t,i)=>{
  const yy = 16+i*23;
  const l = lgG.append("line").attr("x1",6).attr("x2",50).attr("y1",yy).attr("y2",yy).attr("stroke",legColors[i]).attr("stroke-width",i<3?3:3.5);
  if(i===3) l.attr("stroke-dasharray","9,4");
  lgG.append("text").attr("x",60).attr("y",yy+6).text(t).style("font-size","17.5px").attr("fill","#333");
});

// ---------- ROWS B-G ----------
for(let r=0;r<6;r++){
  const top = 331 + r*222.2;
  svg.append("text").attr("x",1).attr("y",top+3).text(rowLetters[r]).style("font-family","Liberation Sans, Arial, sans-serif")
    .style("font-weight","bold").style("font-size","32px");
  for(let c=0;c<6;c++){
    const lo=yLow[r][c], hi=yHigh[r][c];
    const ticks = (r===2||(r===1&&c===3)) ? [lo,lo+0.2,lo+0.4] : [lo,lo+0.2];
    drawPanel({x:58+c*338.2,y:top,w:286,h:128,dom:[lo,hi],ticks:ticks,real:realRows[r][c],sim:simRows[r][c],
      type:types[r][c],left:sigNames[r][c],right:tags[r][c],labY:22,labFS:19,tickFS:14});
  }
}
</script></body></html>
